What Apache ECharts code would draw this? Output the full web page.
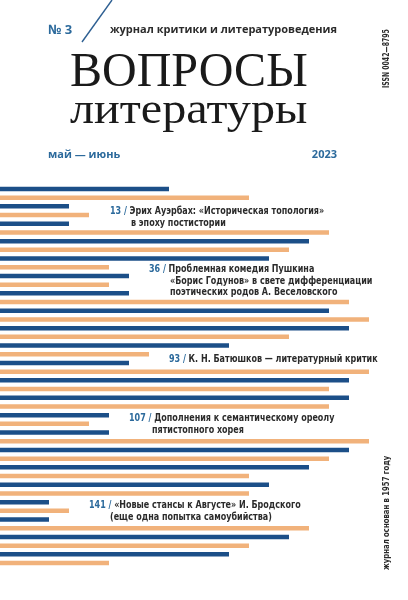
<!DOCTYPE html>
<html>
<head>
<meta charset="utf-8">
<title>Вопросы литературы</title>
<script src="https://cdn.jsdelivr.net/npm/echarts/dist/echarts.min.js"></script>
<style>
	html, body { margin: 0; padding: 0; background: #ffffff; }
	#chart { width: 408px; height: 600px; }
</style>
</head>
<body>
<div id="chart"></div>
<script>
// длины полос, сверху вниз (синие и оранжевые чередуются)
const blueValues = [9, 4, 4, 16, 14, 7, 7, 17, 18, 12, 7, 18, 18, 6, 6, 18, 16, 14, 3, 3, 15, 12]
const orangeValues = [13, 5, 17, 15, 6, 6, 18, 19, 15, 8, 19, 17, 17, 5, 19, 17, 13, 13, 4, 16, 13, 6]

const articlePages = ['13', '36', '93', '107', '141']
const articleLines = [
	['Эрих Ауэрбах: «Историческая топология»', 'в эпоху постистории'],
	['Проблемная комедия Пушкина', '«Борис Годунов» в свете дифференциации', 'поэтических родов А. Веселовского'],
	['К. Н. Батюшков — литературный критик'],
	['Дополнения к семантическому ореолу', 'пятистопного хорея'],
	['«Новые стансы к Августе» И. Бродского', '(еще одна попытка самоубийства)']
]

const BLUE = '#1c4f88'
const ORANGE = '#f1b27b'
const TEXT_BLUE = '#2c6a9c'
const DARK = '#2b2b2b'
const SANS = '"Liberation Sans Narrow", "DejaVu Sans Condensed", sans-serif'
const NARROW = 0.81

// строки категорий: синяя, оранжевая, синяя ...
const rows = []
const blueSeries = []
const orangeSeries = []
for (let i = 0; i < blueValues.length; i++) {
	rows.push('b' + i, 'o' + i)
	blueSeries.push(blueValues[i], '-')
	orangeSeries.push('-', orangeValues[i])
}

// позиции подписей статей
const articleBoxes = [
	{ x: 110, y: 211.5, indent: 21 },
	{ x: 149, y: 269, indent: 21 },
	{ x: 169, y: 359, indent: 0 },
	{ x: 129, y: 418, indent: 23 },
	{ x: 89, y: 505, indent: 21 }
]

function articleText(i) {
	const box = articleBoxes[i]
	const list = []
	articleLines[i].forEach((line, k) => {
		if (k === 0) {
			list.push({
				type: 'text',
				x: box.x,
				y: box.y,
				scaleX: NARROW,
				style: {
					text: '{n|' + articlePages[i] + ' /} {t|' + line + '}',
					textVerticalAlign: 'middle',
					rich: {
						n: { font: 'bold 11px ' + SANS, fill: TEXT_BLUE },
						t: { font: 'bold 11px ' + SANS, fill: DARK }
					}
				}
			})
		} else {
			list.push({
				type: 'text',
				x: box.x + box.indent,
				y: box.y + k * 11.8,
				scaleX: NARROW,
				style: {
					text: line,
					font: 'bold 11px ' + SANS,
					fill: DARK,
					textVerticalAlign: 'middle'
				}
			})
		}
	})
	return list
}

let graphics = [
	{
		type: 'line',
		shape: { x1: 112, y1: 0, x2: 82, y2: 42 },
		style: { stroke: '#2d5f92', lineWidth: 1.4 }
	},
	{
		type: 'text', x: 48, y: 30,
		style: { text: '№ 3', font: 'bold 13px "Open Sans", sans-serif', fill: TEXT_BLUE, textVerticalAlign: 'middle' }
	},
	{
		type: 'text', x: 110, y: 30,
		style: { text: 'журнал критики и литературоведения', font: 'bold 11px "Open Sans", sans-serif', fill: DARK, textVerticalAlign: 'middle' }
	},
	{
		type: 'text', x: 70, y: 73,
		style: { text: 'ВОПРОСЫ', font: '48px "Liberation Serif", serif', fill: '#1a1a1a', textVerticalAlign: 'middle' }
	},
	{
		type: 'text', x: 70, y: 111, scaleX: 1.07,
		style: { text: 'литературы', font: '45px "Liberation Serif", serif', fill: '#1a1a1a', textVerticalAlign: 'middle' }
	},
	{
		type: 'text', x: 48, y: 155,
		style: { text: 'май — июнь', font: 'bold 11px "Open Sans", sans-serif', fill: TEXT_BLUE, textVerticalAlign: 'middle' }
	},
	{
		type: 'text', x: 337, y: 155,
		style: { text: '2023', font: 'bold 11px "Open Sans", sans-serif', fill: TEXT_BLUE, textAlign: 'right', textVerticalAlign: 'middle' }
	},
	{
		type: 'text', x: 387, y: 88, rotation: Math.PI / 2, scaleX: 0.86,
		style: { text: 'ISSN 0042—8795', font: 'bold 8px ' + SANS, fill: DARK, textVerticalAlign: 'middle' }
	},
	{
		type: 'text', x: 387, y: 570, rotation: Math.PI / 2, scaleX: 0.85,
		style: { text: 'журнал основан в 1957 году', font: 'bold 9px ' + SANS, fill: DARK, textVerticalAlign: 'middle' }
	}
]
for (let i = 0; i < articleLines.length; i++) {
	graphics = graphics.concat(articleText(i))
}

const myChart = echarts.init(document.getElementById('chart'), null, { renderer: 'canvas' })
const option = {
	animation: false,
	backgroundColor: '#ffffff',
	// полосы начинаются за левым краем: ось начинается с 0.55, 1 деление = 20px
	grid: { left: 0, right: 0, top: 184.6, height: 382.8 },
	xAxis: { type: 'value', min: 0.55, max: 20.95, show: false },
	yAxis: { type: 'category', data: rows, inverse: true, show: false },
	series: [
		{ type: 'bar', data: blueSeries, barWidth: 4.5, barGap: '-100%', itemStyle: { color: BLUE } },
		{ type: 'bar', data: orangeSeries, barWidth: 4.5, barGap: '-100%', itemStyle: { color: ORANGE } }
	],
	graphic: graphics
}
myChart.setOption(option)
</script>
</body>
</html>
